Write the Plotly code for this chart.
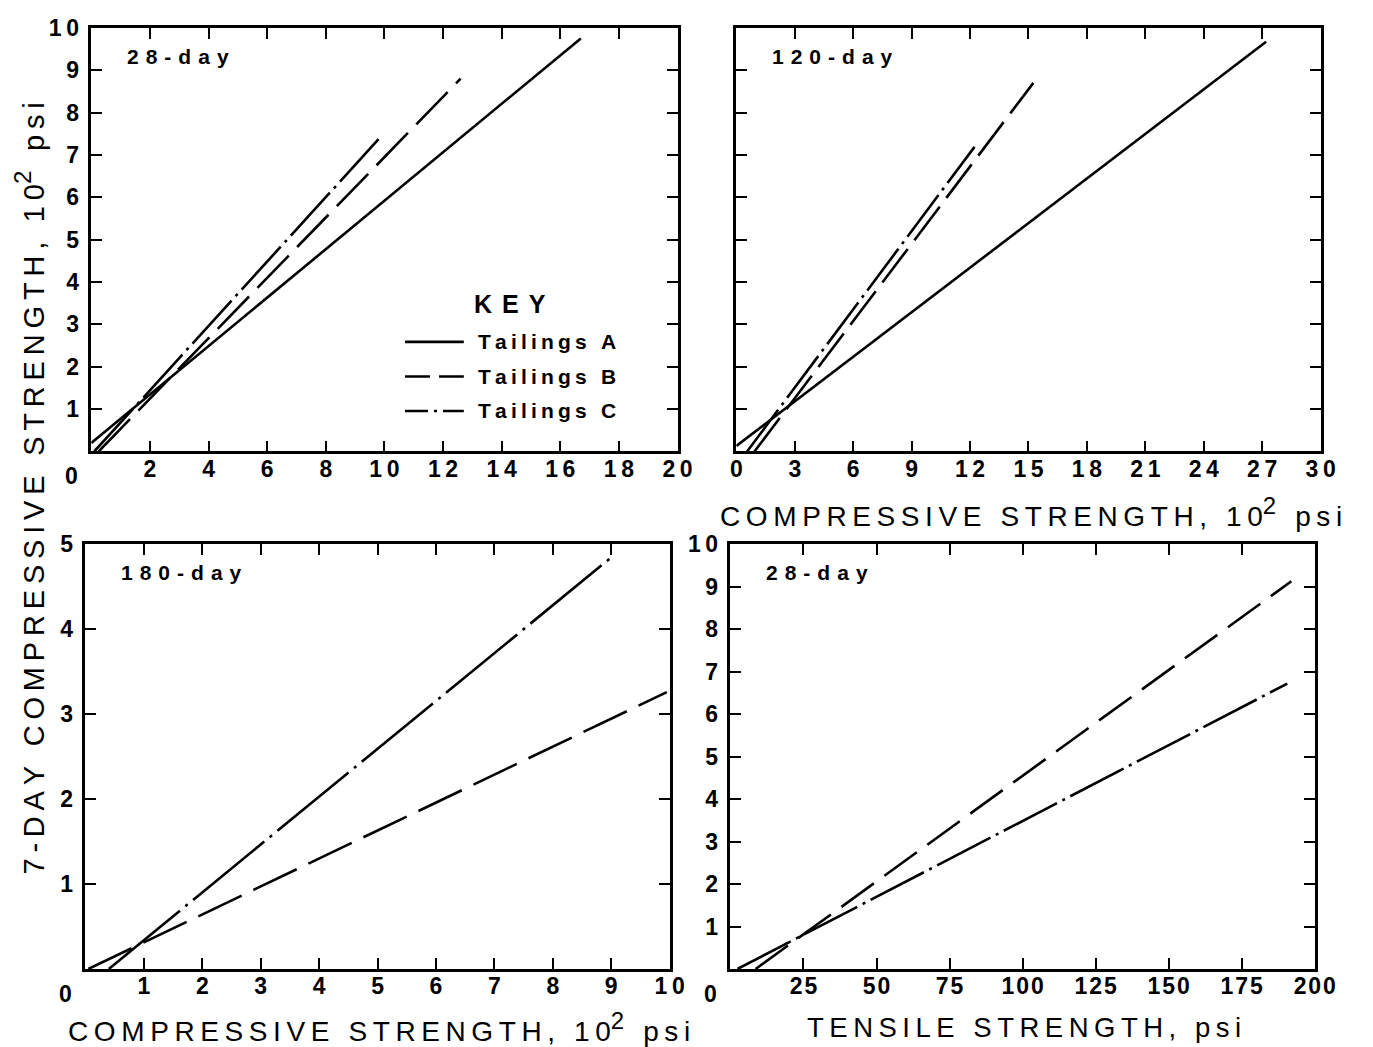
import plotly.graph_objects as go

# Regression lines: 7-day compressive strength vs. later strength.
# Each line is stored by its two end points.

# 28-day compressive strength (10^2 psi)
C28_A_X = [0.0, 16.7]
C28_A_Y = [0.20, 9.75]
C28_B_X = [0.25, 12.6]
C28_B_Y = [0.0, 8.8]
C28_C_X = [0.10, 9.8]
C28_C_Y = [0.0, 7.37]

# 120-day compressive strength (10^2 psi)
C120_A_X = [0.0, 27.2]
C120_A_Y = [0.13, 9.67]
C120_B_X = [0.93, 15.25]
C120_B_Y = [0.0, 8.7]
C120_C_X = [0.55, 12.23]
C120_C_Y = [0.0, 7.19]

# 180-day compressive strength (10^2 psi)
C180_B_X = [0.05, 9.95]
C180_B_Y = [0.0, 3.26]
C180_C_X = [0.40, 9.06]
C180_C_Y = [0.0, 4.88]

# 28-day tensile strength (psi)
T28_B_X = [8.6, 192.0]
T28_B_Y = [0.0, 9.13]
T28_C_X = [2.4, 190.6]
T28_C_Y = [0.0, 6.72]

SERIES_NAMES = ["Tailings A", "Tailings B", "Tailings C"]
PANEL_LABELS = ["28-day", "120-day", "180-day", "28-day"]

X1_TICKS = [2, 4, 6, 8, 10, 12, 14, 16, 18, 20]
X2_TICKS = [0, 3, 6, 9, 12, 15, 18, 21, 24, 27, 30]
X3_TICKS = [1, 2, 3, 4, 5, 6, 7, 8, 9, 10]
X4_TICKS = [25, 50, 75, 100, 125, 150, 175, 200]
Y10_TICKS = [1, 2, 3, 4, 5, 6, 7, 8, 9, 10]
Y5_TICKS = [1, 2, 3, 4, 5]

W, H = 1373, 1047
FONT = "Liberation Sans"
SP = "\u2009"     # thin space for the wide letter spacing
GAP = "\u00a0"    # word gap
HAIR = "\u200a"


def spaced(s, sep=SP):
    return sep.join(GAP if ch == " " else ch for ch in s)


def px_x(p):
    return p / W


def px_y(p):
    return 1 - p / H


# Hand-drafted dash lengths differ a little from panel to panel
DASHES = {
    1: {"Tailings A": "solid", "Tailings B": "45px,12px", "Tailings C": "58px,6px,3px,6px"},
    2: {"Tailings A": "solid", "Tailings B": "42px,11px", "Tailings C": "52px,6px,3px,6px"},
    3: {"Tailings A": "solid", "Tailings B": "48px,13px", "Tailings C": "92px,7px,3px,7px"},
    4: {"Tailings A": "solid", "Tailings B": "40px,13px", "Tailings C": "60px,6px,3px,6px"},
}
KEY_DASH = {"Tailings A": "solid", "Tailings B": "25px,9px", "Tailings C": "23px,6px,3px,6px"}
LINE_W = 2.6

fig = go.Figure()


def add_line(x, y, name, panel):
    sfx = "" if panel == 1 else str(panel)
    fig.add_trace(go.Scatter(
        x=x, y=y, mode="lines", name=name,
        line=dict(color="black", width=LINE_W, dash=DASHES[panel][name]),
        xaxis="x" + sfx, yaxis="y" + sfx, showlegend=False, hoverinfo="skip",
    ))


add_line(C28_A_X, C28_A_Y, "Tailings A", 1)
add_line(C28_B_X, C28_B_Y, "Tailings B", 1)
add_line(C28_C_X, C28_C_Y, "Tailings C", 1)

add_line(C120_A_X, C120_A_Y, "Tailings A", 2)
add_line(C120_B_X, C120_B_Y, "Tailings B", 2)
add_line(C120_C_X, C120_C_Y, "Tailings C", 2)

add_line(C180_B_X, C180_B_Y, "Tailings B", 3)
add_line(C180_C_X, C180_C_Y, "Tailings C", 3)

add_line(T28_B_X, T28_B_Y, "Tailings B", 4)
add_line(T28_C_X, T28_C_Y, "Tailings C", 4)

TICK_FONT = dict(family=FONT, size=23, color="black", weight="bold")


def axis(domain, rng, ticks, anchor, labels=True, standoff=0, sep=HAIR):
    return dict(
        domain=domain, range=rng, anchor=anchor,
        tickmode="array", tickvals=ticks,
        ticktext=[sep.join(str(t)) for t in ticks],
        ticks="inside", ticklen=11, tickwidth=2, tickcolor="black",
        showline=True, linecolor="black", linewidth=2.5, mirror="allticks",
        showgrid=False, zeroline=False, showticklabels=labels,
        tickfont=TICK_FONT, fixedrange=True, ticklabelstandoff=standoff,
    )


P1X = [px_x(87), px_x(685)]
P2X = [px_x(745), px_x(1341)]
P3X = [px_x(81), px_x(677)]
P4X = [px_x(739), px_x(1335)]
TOPY = [px_y(444), px_y(15)]
BOTY = [px_y(968), px_y(538)]

fig.update_layout(
    width=W, height=H,
    margin=dict(l=0, r=0, t=0, b=0),
    paper_bgcolor="white", plot_bgcolor="white",
    font=dict(family=FONT, color="black"),
    showlegend=False,
    xaxis=axis(P1X, [0, 20], X1_TICKS, "y", standoff=-5, sep=SP),
    yaxis=axis(TOPY, [0, 10], Y10_TICKS, "x", standoff=5, sep=SP),
    xaxis2=axis(P2X, [0, 30], X2_TICKS, "y2", standoff=-5, sep=SP),
    yaxis2=axis(TOPY, [0, 10], Y10_TICKS, "x2", labels=False),
    xaxis3=axis(P3X, [0, 10], X3_TICKS, "y3", standoff=-5, sep=SP),
    yaxis3=axis(BOTY, [0, 5], Y5_TICKS, "x3", standoff=5),
    xaxis4=axis(P4X, [0, 200], X4_TICKS, "y4", standoff=-5),
    yaxis4=axis(BOTY, [0, 10], Y10_TICKS, "x4", standoff=5, sep=SP),
)

# Key drawn inside the 28-day compressive panel
KEY_FONT = dict(family=FONT, size=21, color="black", weight="bold")
fig.add_annotation(text=spaced("KEY", SP + SP), xref="paper", yref="paper",
                   x=px_x(514), y=px_y(295), xanchor="center", yanchor="middle",
                   showarrow=False, font=dict(family=FONT, size=25, color="black", weight="bold"))
for i, name in enumerate(SERIES_NAMES):
    yy = px_y(333 + 35 * i)
    fig.add_shape(type="line", xref="paper", yref="paper",
                  x0=px_x(407), x1=px_x(467), y0=yy, y1=yy,
                  line=dict(color="black", width=LINE_W, dash=KEY_DASH[name]))
    fig.add_annotation(text=spaced(name), xref="paper", yref="paper",
                       x=px_x(479), y=yy, xanchor="left", yanchor="middle",
                       showarrow=False, font=KEY_FONT)

# Panel labels inside the top-left corner of each plot
for i, label in enumerate(PANEL_LABELS):
    sfx = "" if i == 0 else str(i + 1)
    fig.add_annotation(
        text=spaced(label, "\u2004"), xref=f"x{sfx} domain", yref=f"y{sfx} domain",
        x=0, y=1, xanchor="left", yanchor="top", xshift=34, yshift=-15,
        showarrow=False, font=dict(family=FONT, size=21, color="black", weight="bold"),
    )

# Shared origin labels set to the left of the corner
for sfx in ["", "3", "4"]:
    fig.add_annotation(
        text="0", xref=f"x{sfx}", yref=f"y{sfx} domain", x=0, y=0,
        xanchor="center", yanchor="top", xshift=-20, yshift=-10,
        showarrow=False, font=TICK_FONT,
    )

SUP2 = "<sup><span style='font-size:24px'>2</span></sup>"
WORD = SP + GAP + SP
UNIT = spaced("10") + SUP2 + WORD + spaced("psi")
comp_title = spaced("COMPRESSIVE STRENGTH,") + WORD + UNIT
tens_title = spaced("TENSILE STRENGTH,") + WORD + spaced("psi")
y_title = spaced("7-DAY COMPRESSIVE STRENGTH,") + WORD + UNIT

TITLE_FONT = dict(family=FONT, size=28, color="black")
fig.add_annotation(text=comp_title, xref="paper", yref="paper", x=px_x(1046), y=px_y(505),
                   xanchor="center", yanchor="middle", showarrow=False, font=TITLE_FONT)
fig.add_annotation(text=comp_title, xref="paper", yref="paper", x=px_x(380), y=px_y(1027),
                   xanchor="center", yanchor="middle", showarrow=False, font=TITLE_FONT)
fig.add_annotation(text=tens_title, xref="paper", yref="paper", x=px_x(1038), y=px_y(1027),
                   xanchor="center", yanchor="middle", showarrow=False,
                   font=dict(family=FONT, size=27.5, color="black"))
fig.add_annotation(text=y_title, xref="paper", yref="paper", x=px_x(24), y=px_y(482),
                   xanchor="center", yanchor="middle", textangle=-90, showarrow=False,
                   font=dict(family=FONT, size=29, color="black"))

fig.write_html("out.html")
